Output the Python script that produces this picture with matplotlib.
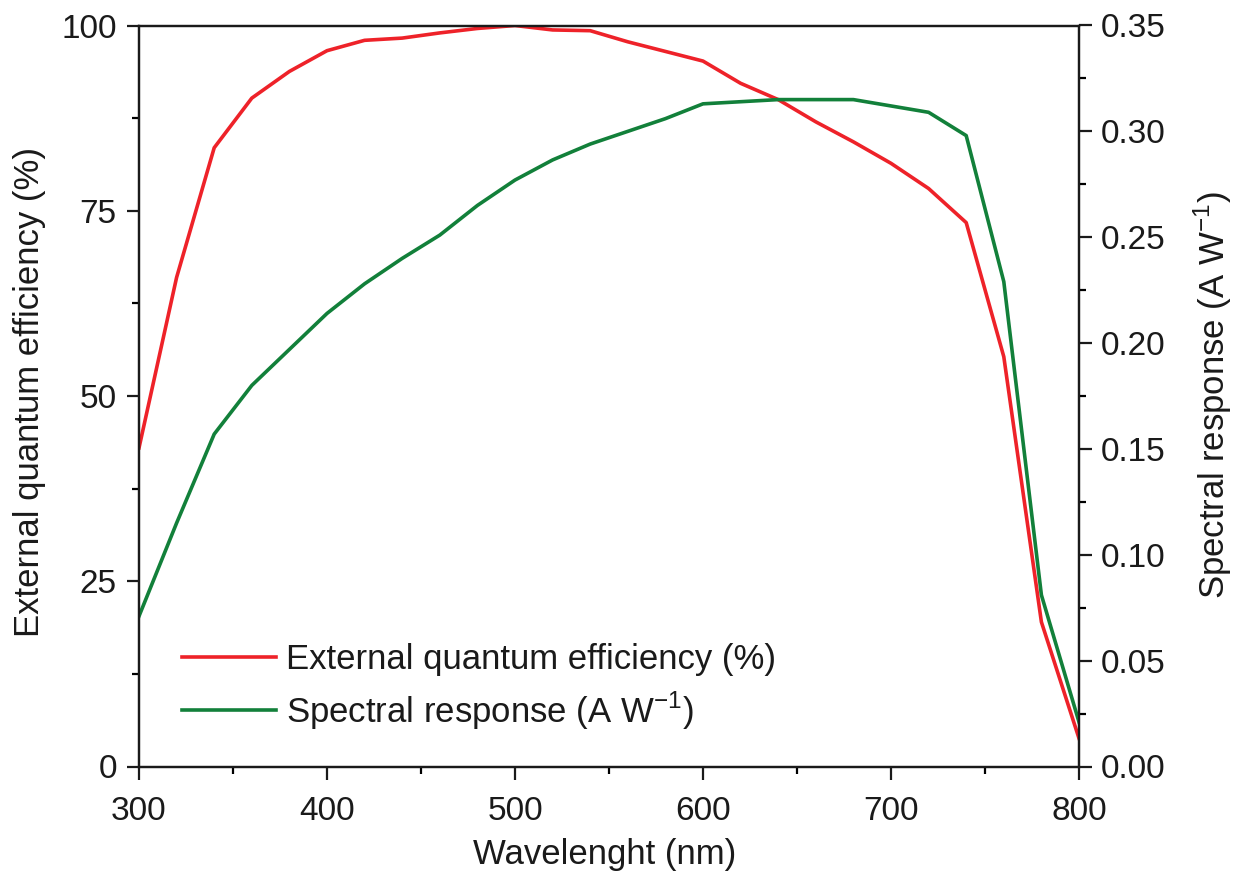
import matplotlib
matplotlib.use("Agg")
import matplotlib.pyplot as plt
from matplotlib.ticker import MultipleLocator, FormatStrFormatter

plt.rcParams['font.family'] = ['Liberation Sans', 'DejaVu Sans']
plt.rcParams['mathtext.fontset'] = 'custom'
plt.rcParams['mathtext.rm'] = 'Liberation Sans'

wavelength = [300, 320, 340, 360, 380, 400, 420, 440, 460, 480, 500, 520, 540,
              560, 580, 600, 620, 640, 660, 680, 700, 720, 740, 760, 780, 800]
eqe = [43.0, 66.0, 83.5, 90.2, 93.8, 96.6, 98.0, 98.3, 99.0, 99.6, 100.0, 99.4, 99.3,
       97.8, 96.5, 95.2, 92.2, 90.0, 87.0, 84.3, 81.4, 78.0, 73.4, 55.3, 19.5, 3.8]
spectral = [0.071, 0.115, 0.157, 0.180, 0.197, 0.214, 0.228, 0.240, 0.251, 0.265, 0.277, 0.2865, 0.294,
            0.300, 0.306, 0.313, 0.314, 0.315, 0.315, 0.315, 0.312, 0.309, 0.298, 0.229, 0.081, 0.021]

red = '#EE2229'
green = '#12803A'

fig = plt.figure(figsize=(12.39, 8.82), dpi=100)
ax = fig.add_axes([139/1239, 1 - 766.5/882, 940/1239, 741/882])
ax2 = ax.twinx()

l1, = ax.plot(wavelength, eqe, color=red, lw=2.6, label='External quantum efficiency (%)')
l2, = ax2.plot(wavelength, spectral, color=green, lw=2.6, label='Spectral response (A W$^{-1}$)')

ax.set_xlim(300, 800)
ax.set_ylim(0, 100)
ax2.set_ylim(0, 0.35)

ax.xaxis.set_major_locator(MultipleLocator(100))
ax.xaxis.set_minor_locator(MultipleLocator(50))
ax.yaxis.set_major_locator(MultipleLocator(25))
ax.yaxis.set_minor_locator(MultipleLocator(12.5))
ax2.yaxis.set_major_locator(MultipleLocator(0.05))
ax2.yaxis.set_minor_locator(MultipleLocator(0.025))
ax2.yaxis.set_major_formatter(FormatStrFormatter('%.2f'))

for a in (ax, ax2):
    for s in a.spines.values():
        s.set_linewidth(1.6)
        s.set_color('#1a1a1a')

ax.tick_params(axis='x', which='major', direction='out', length=9, width=1.6, pad=12,
               labelsize=24, top=False, colors='#1a1a1a')
ax.tick_params(axis='x', which='minor', direction='out', length=5, width=1.6, top=False)
ax.tick_params(axis='y', which='major', direction='out', length=9, width=1.6, pad=7,
               labelsize=24, right=False, colors='#1a1a1a')
ax.tick_params(axis='y', which='minor', direction='out', length=5, width=1.6, right=False)
ax2.tick_params(axis='y', which='major', direction='out', length=9, width=1.6, pad=7,
                labelsize=24, colors='#1a1a1a')
ax2.tick_params(axis='y', which='minor', direction='out', length=5, width=1.6)

ax.set_xlabel('Wavelenght (nm)', fontsize=25, color='#1a1a1a', va='center')
ax.xaxis.set_label_coords(0.4957, -0.1194)
ax.set_ylabel('External quantum efficiency (%)', fontsize=25, color='#1a1a1a', va='center')
ax.yaxis.set_label_coords(-0.116, 0.505)
ax2.set_ylabel('Spectral response (A W$^{-1}$)', fontsize=25, color='#1a1a1a', va='center')
ax2.yaxis.set_label_coords(1.1426, 0.501)

leg = ax.legend(handles=[l1, l2], loc='center left', bbox_to_anchor=(0.0457, 0.1066),
                frameon=False, fontsize=25, handlelength=2.7, handletextpad=0.3,
                labelspacing=0.38, borderpad=0, borderaxespad=0)
for t in leg.get_texts():
    t.set_color('#1a1a1a')

fig.savefig('out.png', dpi=100)
